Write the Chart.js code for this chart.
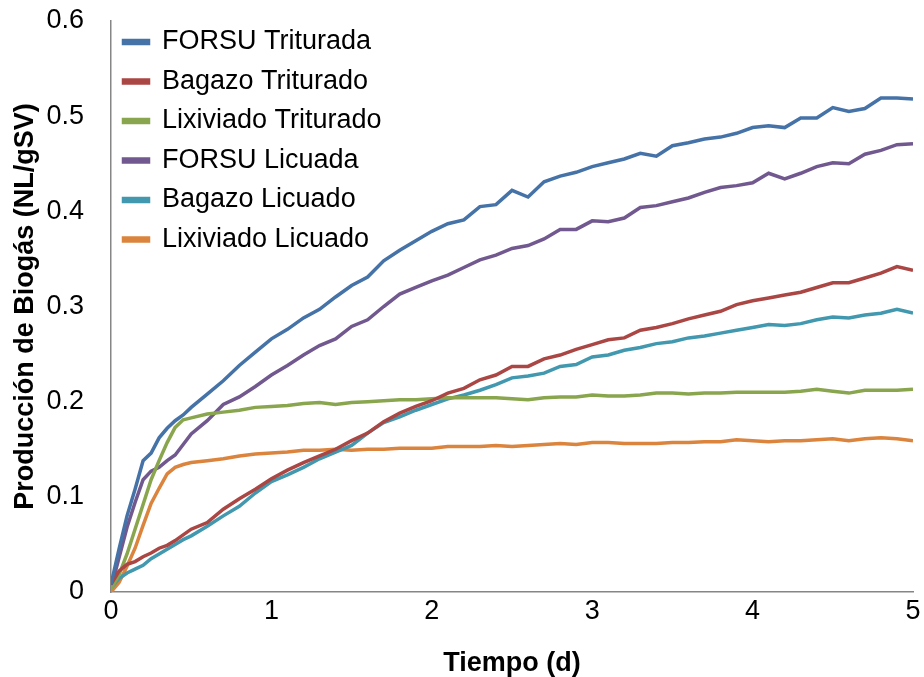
<!DOCTYPE html>
<html>
<head>
<meta charset="utf-8">
<script src="https://cdn.jsdelivr.net/npm/chart.js@4.4.1/dist/chart.umd.min.js"></script>
<style>
  body { margin: 0; background: #fff; }
  #wrap { width: 924px; height: 677px; }
</style>
</head>
<body>
<div id="wrap"><canvas id="grafico" width="924" height="677"></canvas></div>
<script>
// tiempo (d)
const tiempo = [0, 0.05, 0.1, 0.15, 0.2, 0.25, 0.3, 0.35, 0.4, 0.45, 0.5,
  0.6, 0.7, 0.8, 0.9, 1.0, 1.1, 1.2, 1.3, 1.4, 1.5, 1.6, 1.7, 1.8, 1.9, 2.0,
  2.1, 2.2, 2.3, 2.4, 2.5, 2.6, 2.7, 2.8, 2.9, 3.0, 3.1, 3.2, 3.3, 3.4, 3.5,
  3.6, 3.7, 3.8, 3.9, 4.0, 4.1, 4.2, 4.3, 4.4, 4.5, 4.6, 4.7, 4.8, 4.9, 5.0];

// produccion de biogas (NL/gSV)
const forsuTriturada = [0.008, 0.045, 0.080, 0.108, 0.138, 0.146, 0.162, 0.172, 0.180, 0.186, 0.194,
  0.208, 0.222, 0.238, 0.252, 0.266, 0.276, 0.288, 0.297, 0.310, 0.322, 0.331, 0.348, 0.359, 0.369, 0.379,
  0.387, 0.391, 0.405, 0.407, 0.422, 0.415, 0.431, 0.437, 0.441, 0.447, 0.451, 0.455, 0.461, 0.458, 0.469,
  0.472, 0.476, 0.478, 0.482, 0.488, 0.490, 0.488, 0.498, 0.498, 0.509, 0.505, 0.508, 0.519, 0.519, 0.518];

const bagazoTriturado = [0.008, 0.022, 0.029, 0.032, 0.037, 0.041, 0.046, 0.049, 0.054, 0.060, 0.066,
  0.073, 0.087, 0.098, 0.108, 0.119, 0.128, 0.136, 0.143, 0.150, 0.159, 0.167, 0.179, 0.188, 0.195, 0.201,
  0.209, 0.214, 0.223, 0.228, 0.237, 0.237, 0.245, 0.249, 0.255, 0.260, 0.265, 0.267, 0.275, 0.278, 0.282,
  0.287, 0.291, 0.295, 0.302, 0.306, 0.309, 0.312, 0.315, 0.320, 0.325, 0.325, 0.330, 0.335, 0.342, 0.338];

const lixiviadoTriturado = [0.003, 0.018, 0.040, 0.066, 0.092, 0.118, 0.138, 0.157, 0.173, 0.181, 0.183,
  0.187, 0.189, 0.191, 0.194, 0.195, 0.196, 0.198, 0.199, 0.197, 0.199, 0.200, 0.201, 0.202, 0.202, 0.203,
  0.204, 0.204, 0.204, 0.204, 0.203, 0.202, 0.204, 0.205, 0.205, 0.207, 0.206, 0.206, 0.207, 0.209, 0.209,
  0.208, 0.209, 0.209, 0.210, 0.210, 0.210, 0.210, 0.211, 0.213, 0.211, 0.209, 0.212, 0.212, 0.212, 0.213];

const forsuLicuada = [0.004, 0.036, 0.068, 0.094, 0.118, 0.127, 0.131, 0.138, 0.144, 0.155, 0.166,
  0.180, 0.197, 0.205, 0.216, 0.228, 0.238, 0.249, 0.259, 0.266, 0.279, 0.286, 0.300, 0.313, 0.320, 0.327,
  0.333, 0.341, 0.349, 0.354, 0.361, 0.364, 0.371, 0.381, 0.381, 0.390, 0.389, 0.393, 0.404, 0.406, 0.410,
  0.414, 0.420, 0.425, 0.427, 0.430, 0.440, 0.434, 0.440, 0.447, 0.451, 0.450, 0.460, 0.464, 0.470, 0.471];

const bagazoLicuado = [0.004, 0.014, 0.020, 0.024, 0.028, 0.035, 0.040, 0.045, 0.050, 0.055, 0.059,
  0.069, 0.080, 0.090, 0.104, 0.116, 0.123, 0.131, 0.140, 0.147, 0.154, 0.167, 0.178, 0.184, 0.191, 0.197,
  0.203, 0.207, 0.212, 0.218, 0.225, 0.227, 0.230, 0.237, 0.239, 0.247, 0.249, 0.254, 0.257, 0.261, 0.263,
  0.267, 0.269, 0.272, 0.275, 0.278, 0.281, 0.280, 0.282, 0.286, 0.289, 0.288, 0.291, 0.293, 0.297, 0.293];

const lixiviadoLicuado = [0.000, 0.010, 0.027, 0.046, 0.070, 0.093, 0.109, 0.124, 0.131, 0.134, 0.136,
  0.138, 0.140, 0.143, 0.145, 0.146, 0.147, 0.149, 0.149, 0.150, 0.149, 0.150, 0.150, 0.151, 0.151, 0.151,
  0.153, 0.153, 0.153, 0.154, 0.153, 0.154, 0.155, 0.156, 0.155, 0.157, 0.157, 0.156, 0.156, 0.156, 0.157,
  0.157, 0.158, 0.158, 0.160, 0.159, 0.158, 0.159, 0.159, 0.160, 0.161, 0.159, 0.161, 0.162, 0.161, 0.159];

const series = [
  { nombre: 'FORSU Triturada', valores: forsuTriturada, color: '#4572A7' },
  { nombre: 'Bagazo Triturado', valores: bagazoTriturado, color: '#AA4643' },
  { nombre: 'Lixiviado Triturado', valores: lixiviadoTriturado, color: '#89A54E' },
  { nombre: 'FORSU Licuada', valores: forsuLicuada, color: '#71588F' },
  { nombre: 'Bagazo Licuado', valores: bagazoLicuado, color: '#4198AF' },
  { nombre: 'Lixiviado Licuado', valores: lixiviadoLicuado, color: '#DB843D' }
];

const fuente = "'Liberation Sans', Arial, sans-serif";
const gris = '#868686';

const datasets = series.map(s => ({
  label: s.nombre,
  data: tiempo.map((t, i) => ({ x: t, y: s.valores[i] })),
  borderColor: s.color,
  backgroundColor: s.color,
  borderWidth: 3.5,
  pointRadius: 0,
  tension: 0
}));

// sube la leyenda unos pixeles dentro del area del grafico
const ajusteLeyenda = {
  id: 'ajusteLeyenda',
  afterLayout(chart) {
    const lg = chart.legend;
    const dy = chart.chartArea.top - 5 - lg.top;
    lg.top += dy; lg.bottom += dy;
  }
};

new Chart(document.getElementById('grafico'), {
  type: 'line',
  data: { datasets },
  plugins: [ajusteLeyenda],
  options: {
    responsive: false,
    animation: false,
    layout: { padding: { top: 21, right: 11, left: 0, bottom: 0 } },
    plugins: {
      tooltip: { enabled: false },
      legend: {
        position: 'chartArea',
        align: 'start',
        fullSize: false,
        labels: {
          boxWidth: 25,
          boxHeight: 3,
          padding: 12.5,
          color: '#000',
          font: { family: fuente, size: 27 }
        }
      }
    },
    scales: {
      x: {
        type: 'linear',
        min: 0, max: 5,
        grid: { display: false, drawTicks: false },
        border: { display: true, color: gris, width: 1.5 },
        ticks: { stepSize: 1, padding: 3, color: '#000', font: { family: fuente, size: 27 }, maxRotation: 0 },
        title: { display: true, text: 'Tiempo (d)', color: '#000', padding: { top: 0, bottom: -3 },
          font: { family: fuente, size: 27, weight: 'bold' } },
        afterFit: s => { s.height = 85; }
      },
      y: {
        min: 0, max: 0.6,
        grid: { display: false, drawTicks: false },
        border: { display: true, color: gris, width: 1.5 },
        ticks: { stepSize: 0.1, padding: 27, color: '#000', font: { family: fuente, size: 27 } },
        title: { display: true, text: 'Producción de Biogás (NL/gSV)', color: '#000', padding: { top: 9, bottom: 0 },
          font: { family: fuente, size: 27, weight: 'bold' } },
        afterFit: s => { s.width = 111; s.paddingTop = 0; s.paddingBottom = 0; }
      }
    }
  }
});
</script>
</body>
</html>
